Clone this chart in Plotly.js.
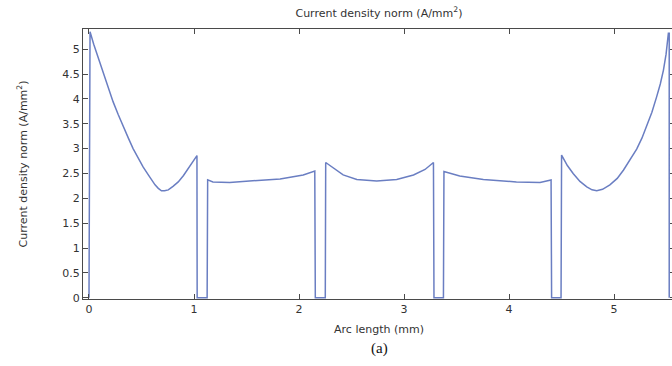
<!DOCTYPE html>
<html>
<head>
<meta charset="utf-8">
<script src="https://cdn.plot.ly/plotly-3.0.1.min.js"></script>
<style>
html,body{margin:0;padding:0;background:#fff;overflow:hidden;}
#chart{width:678px;height:366px;}
</style>
</head>
<body>
<div id="chart"></div>
<script>
const arcLength = [
  0, 0.01, 0.045, 0.089, 0.135, 0.184, 0.23, 0.279, 0.325, 0.375, 0.42, 0.47, 0.515, 0.565, 0.6, 0.629, 0.66, 0.69, 0.72, 0.755, 0.8, 0.85, 0.9, 0.946, 0.99, 1.028, 1.03,
  1.125, 1.13, 1.18, 1.34, 1.565, 1.82, 2.04, 2.15, 2.155,
  2.25, 2.254, 2.33, 2.42, 2.55, 2.74, 2.93, 3.09, 3.2, 3.28, 3.285,
  3.375, 3.38, 3.53, 3.755, 4.07, 4.295, 4.36, 4.40, 4.405,
  4.495, 4.50, 4.555, 4.61, 4.675, 4.74, 4.79, 4.835, 4.89, 4.96, 5.03, 5.09, 5.15, 5.215, 5.265, 5.31, 5.36, 5.405, 5.44, 5.47, 5.495, 5.517, 5.525, 5.525];
const currentDensity = [
  0, 5.35, 5.10, 4.82, 4.50, 4.21, 3.94, 3.68, 3.44, 3.21, 3.00, 2.80, 2.63, 2.47, 2.36, 2.27, 2.20, 2.15, 2.15, 2.17, 2.24, 2.33, 2.46, 2.60, 2.74, 2.86, 0,
  0, 2.37, 2.33, 2.32, 2.35, 2.39, 2.47, 2.55, 0,
  0, 2.72, 2.60, 2.47, 2.38, 2.35, 2.38, 2.47, 2.58, 2.72, 0,
  0, 2.54, 2.45, 2.38, 2.33, 2.32, 2.35, 2.37, 0,
  0, 2.87, 2.66, 2.50, 2.34, 2.23, 2.17, 2.15, 2.18, 2.27, 2.40, 2.57, 2.76, 2.99, 3.21, 3.44, 3.73, 4.04, 4.30, 4.58, 4.90, 5.32, 5.32, 0];
const xTicks = [0, 1, 2, 3, 4, 5];
const yTicks = [0, 0.5, 1, 1.5, 2, 2.5, 3, 3.5, 4, 4.5, 5];

const axisCommon = {
  showline: true, linecolor: '#4a4a4a', linewidth: 1,
  mirror: 'ticks', ticks: 'inside', ticklen: 5, tickcolor: '#4a4a4a',
  showgrid: false, zeroline: false,
  tickfont: {family: 'DejaVu Sans', size: 11, color: '#333'}
};

const trace = {
  x: arcLength, y: currentDensity, type: 'scatter', mode: 'lines',
  line: {color: '#6a7ec2', width: 1.5}, hoverinfo: 'skip'
};

const layout = {
  width: 678, height: 366,
  margin: {l: 83, r: 3, t: 29, b: 67},
  paper_bgcolor: '#fff', plot_bgcolor: '#fff',
  showlegend: false,
  title: {text: 'Current density norm (A/mm<sup>2</sup>)', font: {family: 'DejaVu Sans', size: 11, color: '#333'},
          x: 0.5, xref: 'paper', y: 0.965, yref: 'container', yanchor: 'middle'},
  xaxis: Object.assign({}, axisCommon, {
    range: [-0.057, 5.58], tickvals: xTicks, ticktext: xTicks.map(String),
    title: {text: 'Arc length (mm)', font: {family: 'DejaVu Sans', size: 11, color: '#333'}, standoff: 10}
  }),
  yaxis: Object.assign({}, axisCommon, {
    range: [-0.026, 5.406], tickvals: yTicks, ticktext: yTicks.map(String),
    title: {text: 'Current density norm (A/mm<sup>2</sup>)', font: {family: 'DejaVu Sans', size: 11, color: '#333'}, standoff: 32}
  }),
  annotations: [{
    text: '(a)', xref: 'paper', yref: 'paper', x: 0.5, y: -0.185, yanchor: 'middle',
    showarrow: false, font: {family: 'Liberation Serif', size: 15, color: '#111'}
  }]
};

Plotly.newPlot('chart', [trace], layout, {displayModeBar: false, staticPlot: true});
</script>
</body>
</html>
